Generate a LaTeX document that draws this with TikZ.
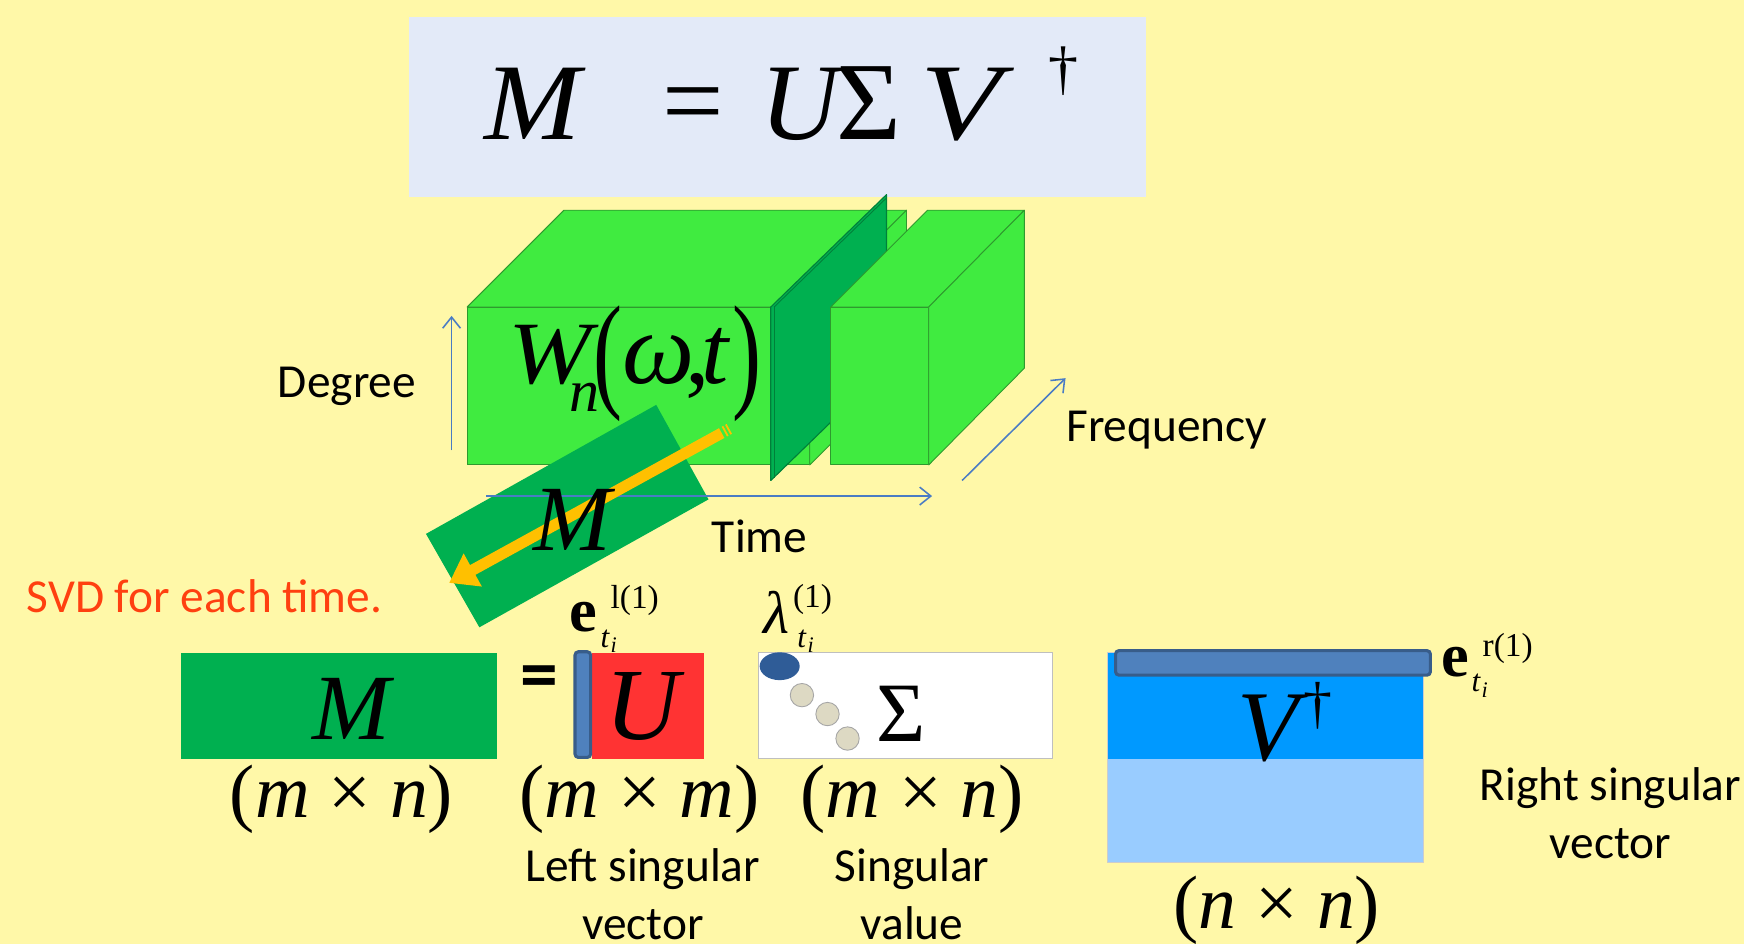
\documentclass[tikz,border=0pt]{standalone}
\usepackage{graphicx}
\usepackage{fontspec}
\setmainfont{Liberation Serif}
\newfontfamily\calib{Carlito}
\usetikzlibrary{arrows.meta}
\definecolor{bgY}{HTML}{FFF8A8}
\definecolor{fboxc}{HTML}{E3EAF8}
\definecolor{lgreen}{HTML}{40EB40}
\definecolor{lgedge}{HTML}{2E9A2E}
\definecolor{dgreen}{HTML}{00B050}
\definecolor{dgedge}{HTML}{00803A}
\definecolor{ayellow}{HTML}{FFC000}
\definecolor{ured}{HTML}{FF3333}
\definecolor{vbar}{HTML}{4F81BD}
\definecolor{vbaredge}{HTML}{385D8A}
\definecolor{vup}{HTML}{0099FF}
\definecolor{vlow}{HTML}{99CCFF}
\definecolor{axisc}{HTML}{4A7CC4}
\definecolor{svdc}{HTML}{FF4010}
\definecolor{ellc}{HTML}{2F5C97}
\definecolor{dotc}{HTML}{DDD9C3}
\begin{document}
\begin{tikzpicture}[x=0.5pt,y=-0.5pt,
  tx/.style={inner sep=0pt,outer sep=0pt},
  lbl/.style={inner sep=0pt,font=\calib\fontsize{21.3}{26}\selectfont,align=center},
  face/.style={fill=lgreen,draw=lgedge,line width=0.4pt,line join=round},
  axisarrow/.style={draw=axisc,line width=0.7pt,-{Straight Barb[length=5pt,width=8pt]}},
  vecbar/.style={fill=vbar,draw=vbaredge,line width=1.4pt,rounded corners=1.5pt}]
\useasboundingbox (0,0) rectangle (1568,849);
\fill[bgY] (0,0) rectangle (1568,849);

% top formula
\fill[fboxc] (368,15) rectangle (1030,177);
\node[tx,anchor=base west] (fM) at (436,125) {\fontsize{49}{50}\selectfont\itshape\scalebox{1.06}[1]{M}};
\node[tx] (feq) at (623,101) {\fontsize{49}{50}\selectfont =};
\node[tx,anchor=base west] (fU) at (684,125) {\fontsize{49}{50}\selectfont\itshape U};
\node[tx,anchor=base west] (fS) at (752,125) {\fontsize{50}{50}\selectfont Σ};
\node[tx,anchor=base west] (fV) at (828,125) {\fontsize{49}{50}\selectfont\itshape\scalebox{1.22}[1]{V}};
\node[tx,anchor=base west] (fD) at (943,80) {\fontsize{27}{28}\selectfont †};

% block 1
\draw[face] (420,276) rectangle (728,418);
\draw[face] (420,276) -- (507,189) -- (815,189) -- (728,276) -- cycle;
\draw[face] (728,276) -- (815,189) -- (815,331) -- (728,418) -- cycle;
% slice
\draw[fill=dgreen,draw=dgedge,line width=0.5pt,line join=round] (693,276) -- (797,175) -- (797,331) -- (693,432) -- cycle;
\draw[dgedge,line width=0.4pt] (696,276) -- (696,430);
\draw[dgedge,line width=0.4pt] (696,276) -- (797,178);
% block 2
\draw[face] (747,276) rectangle (835,418);
\draw[face] (747,276) -- (834,189) -- (921,189) -- (835,276) -- cycle;
\draw[face] (835,276) -- (921,189) -- (921,331) -- (835,418) -- cycle;

% W_n(omega,t)
\node[tx,anchor=base west] (W) at (457,345) {\fontsize{40}{42}\selectfont\itshape\scalebox{1.12}[1]{W}};
\node[tx,anchor=base west] (Wn) at (512,370) {\fontsize{27}{28}\selectfont\itshape n};
\node[tx,anchor=base west] (Wl) at (534,355) {\fontsize{46}{46}\selectfont\scalebox{0.85}[1.25]{(}};
\node[tx,anchor=base west] (Wo) at (560,345) {\fontsize{46}{46}\selectfont\itshape ω};
\node[tx,anchor=base west] (Wc) at (616,345) {\fontsize{44}{44}\selectfont ,};
\node[tx,anchor=base west] (Wt) at (631,345) {\fontsize{44}{44}\selectfont\itshape t};
\node[tx,anchor=base west] (Wr) at (659,355) {\fontsize{46}{46}\selectfont\scalebox{0.85}[1.25]{)}};

% axes
\coordinate (dg0) at (406,405); \coordinate (dg1) at (406,284);
\draw[axisarrow] (dg0) -- (dg1);
\coordinate (fq0) at (865,432); \coordinate (fq1) at (958,340);
\draw[axisarrow] (fq0) -- (fq1);

% rotated M slice
\fill[dgreen] (383,480) -- (590,364) -- (637,449) -- (431,564) -- cycle;
\coordinate (tm0) at (437,446); \coordinate (tm1) at (838,446);
\draw[axisarrow] (tm0) -- (tm1);
% yellow arrow
\fill[ayellow] (651.28,393.75) -- (427.44,516.83) -- (433.22,527.35) -- (404,524) -- (416.84,497.55) -- (422.62,508.07) -- (646.46,384.99) -- cycle;
\draw[ayellow,line width=0.8pt] (657.41,390.38) -- (652.59,381.62);
\draw[ayellow,line width=0.8pt] (654.34,392.07) -- (649.52,383.31);
\node[tx,anchor=base] (sM) at (515,495) {\fontsize{42}{42}\selectfont\itshape M};

% labels
\node[lbl] (deg) at (312,347) {Degree};
\node[lbl] (freq) at (1049,387) {Frequency};
\node[lbl] (time) at (683,482) {Time};
\node[lbl,text=svdc] (svd) at (184,536) {SVD for each time.};

% bottom row: M
\fill[dgreen] (163,587) rectangle (447,682);
\node[tx,anchor=base] (bM) at (316,665) {\fontsize{42}{42}\selectfont\itshape M};
\node[tx,anchor=base] (dM) at (307,735) {\fontsize{34}{34}\selectfont (\textit{m} × \textit{n})};
\node[tx] (beq) at (485,614) {\calib\bfseries\fontsize{34}{34}\selectfont =};

% U
\fill[ured] (532,587) rectangle (633,682);
\node[tx,anchor=base] (bU) at (578,665) {\fontsize{46}{46}\selectfont\itshape U};
\draw[vecbar] (517,586) rectangle (531,681);
\node[tx,anchor=base] (dU) at (575,735) {\fontsize{34}{34}\selectfont (\textit{m} × \textit{m})};
\node[tx,anchor=base west] (eL) at (512,568) {\fontsize{28}{28}\selectfont\bfseries e};
\node[tx,anchor=base west] (eLs) at (549,547) {\fontsize{15}{15}\selectfont l(1)};
\node[tx,anchor=base west] (eLt) at (540,582) {\fontsize{14}{14}\selectfont\itshape t};
\node[tx,anchor=base west] (eLi) at (549,587) {\fontsize{10}{10}\selectfont\itshape i};

% Sigma
\draw[fill=white,draw=black!25,line width=0.5pt] (682,587) rectangle (946,682);
\fill[ellc] (701,599) ellipse (18 and 12.5);
\draw[fill=dotc,draw=black!35,line width=0.4pt] (721,625) circle (10.5);
\draw[fill=dotc,draw=black!35,line width=0.4pt] (744,642) circle (10.5);
\draw[fill=dotc,draw=black!35,line width=0.4pt] (762,664) circle (10.5);
\node[tx,anchor=base] (bS) at (810,667) {\fontsize{38}{38}\selectfont Σ};
\node[tx,anchor=base] (dS) at (820,735) {\fontsize{34}{34}\selectfont (\textit{m} × \textit{n})};
\node[tx,anchor=base west] (lam) at (686,570) {\fontsize{27}{27}\selectfont\itshape λ};
\node[tx,anchor=base west] (lams) at (713,546) {\fontsize{15}{15}\selectfont (1)};
\node[tx,anchor=base west] (lamt) at (717,582) {\fontsize{14}{14}\selectfont\itshape t};
\node[tx,anchor=base west] (lami) at (726,587) {\fontsize{10}{10}\selectfont\itshape i};

% V dagger
\fill[vlow] (996,682) rectangle (1280,775);
\fill[vup] (996,587) rectangle (1280,682);
\draw[black!20,line width=0.4pt] (996,587) rectangle (1280,775);
\draw[vecbar] (1003,585) rectangle (1286,607);
\node[tx,anchor=base] (bV) at (1140,684) {\fontsize{45}{45}\selectfont\itshape V};
\node[tx,anchor=base west] (bVd) at (1172,650) {\fontsize{26}{26}\selectfont †};
\node[tx,anchor=base] (dV) at (1148,835) {\fontsize{34}{34}\selectfont (\textit{n} × \textit{n})};
\node[tx,anchor=base west] (eR) at (1296,608) {\fontsize{28}{28}\selectfont\bfseries e};
\node[tx,anchor=base west] (eRs) at (1333,590) {\fontsize{15}{15}\selectfont r(1)};
\node[tx,anchor=base west] (eRt) at (1323,622) {\fontsize{14}{14}\selectfont\itshape t};
\node[tx,anchor=base west] (eRi) at (1332,627) {\fontsize{10}{10}\selectfont\itshape i};

% descriptions
\node[lbl] (lsv) at (578,804) {Left singular\\vector};
\node[lbl] (sv) at (820,804) {Singular\\value};
\node[lbl] (rsv) at (1448,731) {Right singular\\vector};
\end{tikzpicture}
\end{document}
